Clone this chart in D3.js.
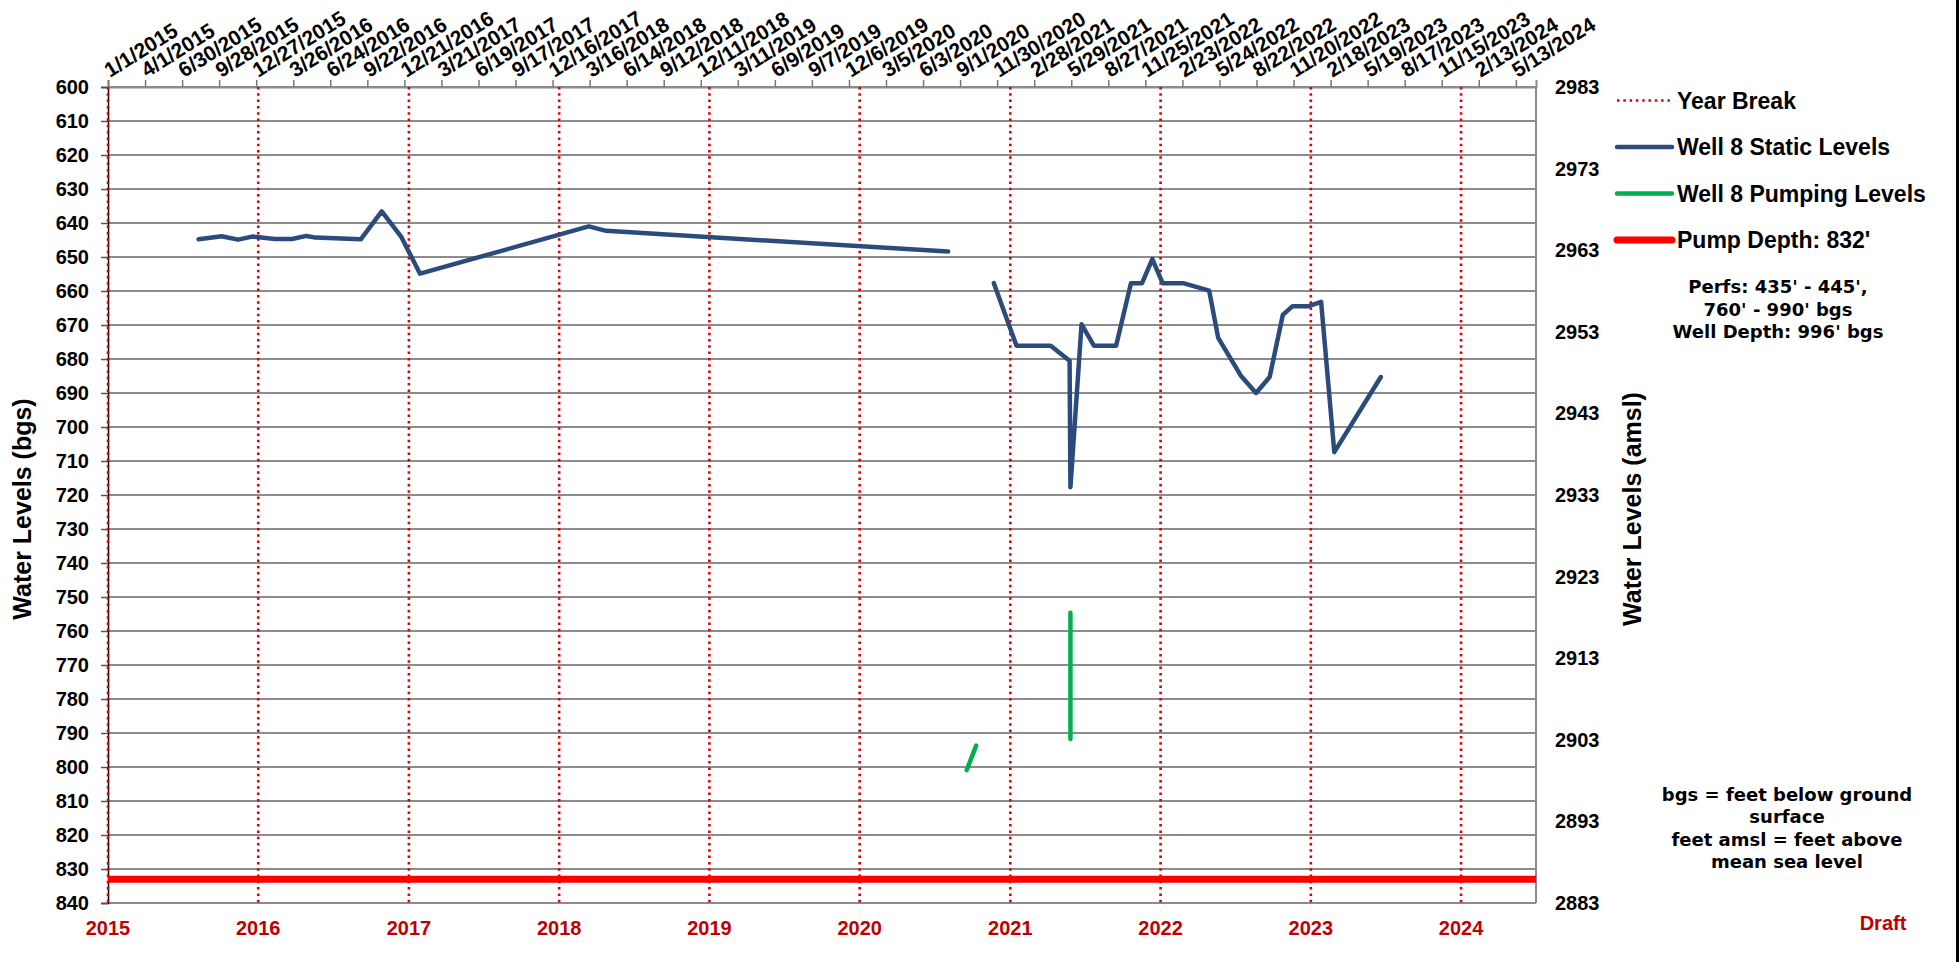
<!DOCTYPE html>
<html lang="en">

<head>
    <meta charset="UTF-8">
    <title>Well 8 Water Levels</title>
    <script src="https://d3js.org/d3.v7.min.js"></script>
    <style>
        html, body {
            margin: 0;
            padding: 0;
            background: #fff;
        }

        svg {
            display: block;
            font-family: "Liberation Sans", Arial, sans-serif;
            font-weight: bold;
        }

        .note {
            font-family: "DejaVu Sans", sans-serif;
            font-size: 18px;
        }
    </style>
</head>

<body>
    <div id="chart"></div>

    <script>
        // Data (depth below ground surface, feet)
        const staticDates = [
            "8/9/2015", "10/4/2015", "11/13/2015", "12/17/2015", "2/11/2016", "3/23/2016",
            "4/27/2016", "5/19/2016", "9/6/2016", "10/27/2016", "12/13/2016", "1/28/2017",
            "3/14/2018", "4/25/2018", "8/3/2020", null,
            "11/22/2020", "1/16/2021", "4/9/2021", "5/25/2021", "5/27/2021", "6/23/2021",
            "7/23/2021", "9/15/2021", "10/21/2021", "11/17/2021", "12/12/2021", "1/6/2022",
            "2/25/2022", "4/29/2022", "5/21/2022", "7/15/2022", "8/21/2022", "9/23/2022",
            "10/25/2022", "11/17/2022", "12/25/2022", "1/26/2023", "2/27/2023", "6/20/2023"
        ];
        const staticLevels = [
            644.8, 643.9, 644.9, 644.0, 644.7, 644.7,
            643.8, 644.3, 644.8, 636.6, 644.0, 654.9,
            641.0, 642.3, 648.4, null,
            657.7, 676.1, 676.1, 680.5, 717.7, 669.8,
            676.1, 676.1, 657.7, 657.7, 650.6, 657.7,
            657.7, 659.9, 673.8, 684.9, 690.0, 685.3,
            667.0, 664.5, 664.5, 663.2, 707.4, 685.3
        ];

        const pumpingDates = ["9/17/2020", "10/10/2020", null, "5/27/2021", "5/27/2021"];
        const pumpingLevels = [800.9, 793.7, null, 754.6, 791.8];

        const pumpDepth = 833;

        const years = ["2015", "2016", "2017", "2018", "2019", "2020", "2021", "2022", "2023", "2024"];

        const topTickLabels = [
            "1/1/2015", "4/1/2015", "6/30/2015", "9/28/2015", "12/27/2015", "3/26/2016",
            "6/24/2016", "9/22/2016", "12/21/2016", "3/21/2017", "6/19/2017", "9/17/2017",
            "12/16/2017", "3/16/2018", "6/14/2018", "9/12/2018", "12/11/2018", "3/11/2019",
            "6/9/2019", "9/7/2019", "12/6/2019", "3/5/2020", "6/3/2020", "9/1/2020",
            "11/30/2020", "2/28/2021", "5/29/2021", "8/27/2021", "11/25/2021", "2/23/2022",
            "5/24/2022", "8/22/2022", "11/20/2022", "2/18/2023", "5/19/2023", "8/17/2023",
            "11/15/2023", "2/13/2024", "5/13/2024"
        ];

        const leftTicks = d3.range(600, 841, 10);
        const rightTicks = d3.range(2983, 2882, -10);

        const legendItems = [
            { label: "Year Break", color: "#e00000", width: 2.6, dash: "2.5 3.8" },
            { label: "Well 8 Static Levels", color: "#2a4b7c", width: 4.5, dash: null },
            { label: "Well 8 Pumping Levels", color: "#00b050", width: 4.5, dash: null },
            { label: "Pump Depth: 832'", color: "#ff0000", width: 7, dash: null }
        ];

        const perfsNote = ["Perfs: 435' - 445',", "760' - 990' bgs", "Well Depth: 996' bgs"];
        const unitsNote = ["bgs = feet below ground", "surface", "feet amsl = feet above", "mean sea level"];

        // Layout
        const width = 1959, height = 962;
        const plot = { left: 108, right: 1536, top: 87, bottom: 903 };

        const parse = d3.utcParse("%m/%d/%Y");

        const x = d3.scaleUtc()
            .domain([parse("1/1/2015"), parse("7/1/2024")])
            .range([plot.left, plot.right]);

        const y = d3.scaleLinear()
            .domain([600, 840])
            .range([plot.top, plot.bottom]);

        const yRight = d3.scaleLinear()
            .domain([2983, 2883])
            .range([plot.top, plot.bottom]);

        const svg = d3.select("#chart")
            .append("svg")
            .attr("width", width)
            .attr("height", height);

        // Horizontal gridlines
        svg.append("g")
            .selectAll("line")
            .data(leftTicks)
            .join("line")
            .attr("x1", plot.left)
            .attr("x2", plot.right)
            .attr("y1", d => y(d))
            .attr("y2", d => y(d))
            .attr("stroke", "#8c8c8c")
            .attr("stroke-width", 2);

        // Right border of the plot
        svg.append("line")
            .attr("x1", plot.right).attr("x2", plot.right)
            .attr("y1", plot.top).attr("y2", plot.bottom)
            .attr("stroke", "#8c8c8c")
            .attr("stroke-width", 2);

        // Left axis
        const leftAxis = svg.append("g")
            .attr("transform", `translate(${plot.left},0)`)
            .call(d3.axisLeft(y).tickValues(leftTicks).tickSize(7).tickPadding(12));
        leftAxis.select(".domain").attr("stroke", "#000").attr("stroke-width", 1.5);
        leftAxis.selectAll(".tick line").attr("stroke", "#555").attr("stroke-width", 1.5);
        leftAxis.selectAll(".tick text")
            .attr("font-size", 20)
            .attr("font-family", "Liberation Sans, Arial, sans-serif")
            .attr("font-weight", "bold")
            .attr("fill", "#000");

        // Right axis labels (no tick marks)
        const rightAxis = svg.append("g")
            .attr("transform", `translate(${plot.right},0)`)
            .call(d3.axisRight(yRight).tickValues(rightTicks).tickSize(0).tickPadding(19).tickFormat(d3.format("d")));
        rightAxis.select(".domain").remove();
        rightAxis.selectAll(".tick text")
            .attr("font-size", 20)
            .attr("font-family", "Liberation Sans, Arial, sans-serif")
            .attr("font-weight", "bold")
            .attr("fill", "#000");

        // Top axis with 90-day ticks and rotated date labels
        const topDates = topTickLabels.map(parse);
        const topAxis = svg.append("g")
            .attr("transform", `translate(0,${plot.top})`)
            .call(d3.axisTop(x).tickValues(topDates).tickSize(7).tickFormat(""));
        topAxis.select(".domain").attr("stroke", "#8c8c8c").attr("stroke-width", 2);
        topAxis.selectAll(".tick line").attr("stroke", "#777").attr("stroke-width", 1.5);

        svg.append("g")
            .selectAll("text")
            .data(topTickLabels)
            .join("text")
            .attr("transform", d => `translate(${x(parse(d)) + 2},${plot.top - 9}) rotate(-32)`)
            .attr("font-size", 21)
            .attr("fill", "#000")
            .text(d => d);

        // Year break lines
        const yearDates = years.map(yr => parse("1/1/" + yr));
        svg.append("g")
            .selectAll("line")
            .data(yearDates)
            .join("line")
            .attr("x1", d => x(d))
            .attr("x2", d => x(d))
            .attr("y1", plot.top)
            .attr("y2", plot.bottom)
            .attr("stroke", "#e00000")
            .attr("stroke-width", 2.6)
            .attr("stroke-dasharray", "2.5 3.8");

        // Year labels below the plot
        svg.append("g")
            .selectAll("text")
            .data(years)
            .join("text")
            .attr("x", d => x(parse("1/1/" + d)))
            .attr("y", plot.bottom + 32)
            .attr("text-anchor", "middle")
            .attr("font-size", 20)
            .attr("fill", "#c00000")
            .text(d => d);

        // Pump depth
        svg.append("line")
            .attr("x1", plot.left)
            .attr("x2", plot.right)
            .attr("y1", y(pumpDepth))
            .attr("y2", y(pumpDepth))
            .attr("stroke", "#ff0000")
            .attr("stroke-width", 7);

        const line = d3.line()
            .defined(d => d.v != null)
            .x(d => x(d.date))
            .y(d => y(d.v));

        const staticData = staticDates.map((d, i) => ({ date: d ? parse(d) : null, v: staticLevels[i] }));
        const pumpingData = pumpingDates.map((d, i) => ({ date: d ? parse(d) : null, v: pumpingLevels[i] }));

        svg.append("path")
            .datum(pumpingData)
            .attr("d", line)
            .attr("fill", "none")
            .attr("stroke", "#00b050")
            .attr("stroke-width", 4.5)
            .attr("stroke-linecap", "round");

        svg.append("path")
            .datum(staticData)
            .attr("d", line)
            .attr("fill", "none")
            .attr("stroke", "#2a4b7c")
            .attr("stroke-width", 4.5)
            .attr("stroke-linejoin", "round")
            .attr("stroke-linecap", "round");

        // Axis titles
        svg.append("text")
            .attr("transform", `translate(31,${(plot.top + plot.bottom) / 2 + 14}) rotate(-90)`)
            .attr("text-anchor", "middle")
            .attr("font-size", 25)
            .text("Water Levels (bgs)");

        svg.append("text")
            .attr("transform", `translate(1641,${(plot.top + plot.bottom) / 2 + 14}) rotate(-90)`)
            .attr("text-anchor", "middle")
            .attr("font-size", 25)
            .text("Water Levels (amsl)");

        // Legend
        const legend = svg.append("g")
            .selectAll("g")
            .data(legendItems)
            .join("g")
            .attr("transform", (d, i) => `translate(1617,${100.5 + i * 46.5})`);

        legend.append("line")
            .attr("x1", 0)
            .attr("x2", 55)
            .attr("stroke", d => d.color)
            .attr("stroke-width", d => d.width)
            .attr("stroke-dasharray", d => d.dash)
            .attr("stroke-linecap", d => d.dash ? "butt" : "round");

        legend.append("text")
            .attr("x", 60)
            .attr("dy", "0.36em")
            .attr("font-size", 23)
            .text(d => d.label);

        // Notes
        svg.append("g")
            .selectAll("text")
            .data(perfsNote)
            .join("text")
            .attr("class", "note")
            .attr("x", 1778)
            .attr("y", (d, i) => 293 + i * 22.7)
            .attr("text-anchor", "middle")
            .text(d => d);

        svg.append("g")
            .selectAll("text")
            .data(unitsNote)
            .join("text")
            .attr("class", "note")
            .attr("x", 1787)
            .attr("y", (d, i) => 801 + i * 22.4)
            .attr("text-anchor", "middle")
            .text(d => d);

        svg.append("text")
            .attr("x", 1883)
            .attr("y", 930)
            .attr("text-anchor", "middle")
            .attr("font-size", 20)
            .attr("fill", "#c00000")
            .text("Draft");

        // Frame edge on the right
        svg.append("line")
            .attr("x1", 1957.5).attr("x2", 1957.5)
            .attr("y1", 0).attr("y2", height)
            .attr("stroke", "#000")
            .attr("stroke-width", 3);
    </script>
</body>

</html>
